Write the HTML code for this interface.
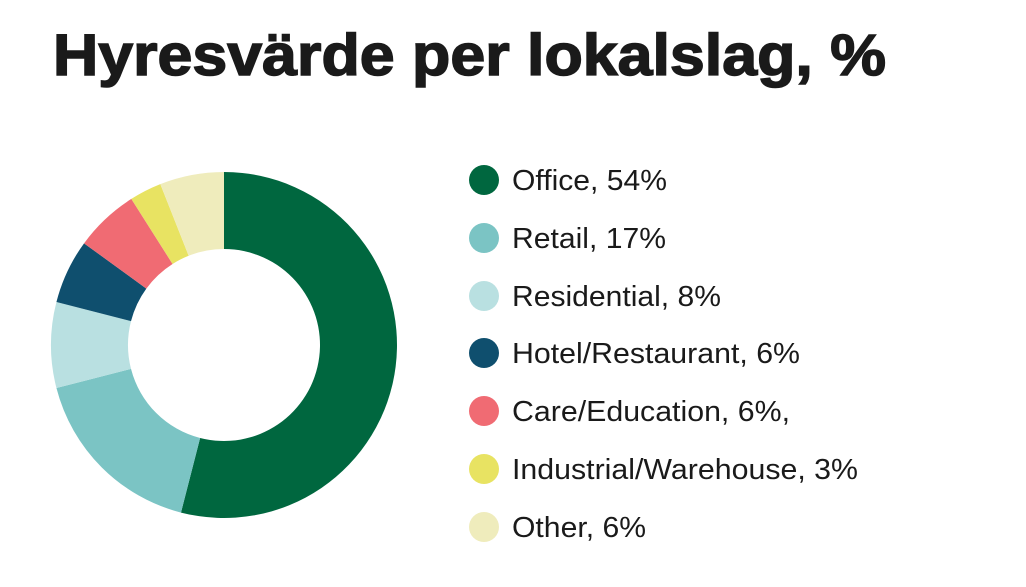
<!DOCTYPE html>
<html><head><meta charset="utf-8"><style>
html,body{margin:0;padding:0;background:#fff;}
svg{display:block;}
</style></head><body>
<svg id="s" width="1026" height="587" xmlns="http://www.w3.org/2000/svg">
<rect width="1026" height="587" fill="#fff"/>
<text x="53" y="75" font-family="Liberation Sans, sans-serif" font-weight="bold" font-size="58" fill="#1a1a1a" stroke="#1a1a1a" stroke-width="1.5" textLength="833" lengthAdjust="spacingAndGlyphs">Hyresvärde per lokalslag, %</text>
<g id="pie"></g>
<g font-family="Liberation Sans, sans-serif" font-size="29" fill="#1a1a1a">
<circle cx="484" cy="180" r="15" fill="#00673f"/><text x="512" y="190" textLength="155" lengthAdjust="spacingAndGlyphs">Office, 54%</text>
<circle cx="484" cy="238" r="15" fill="#7bc4c4"/><text x="512" y="248" textLength="154" lengthAdjust="spacingAndGlyphs">Retail, 17%</text>
<circle cx="484" cy="296" r="15" fill="#b9e0e1"/><text x="512" y="306" textLength="209" lengthAdjust="spacingAndGlyphs">Residential, 8%</text>
<circle cx="484" cy="353" r="15" fill="#0f4f6e"/><text x="512" y="363" textLength="288" lengthAdjust="spacingAndGlyphs">Hotel/Restaurant, 6%</text>
<circle cx="484" cy="411" r="15" fill="#f06b73"/><text x="512" y="421" textLength="278" lengthAdjust="spacingAndGlyphs">Care/Education, 6%,</text>
<circle cx="484" cy="469" r="15" fill="#e8e362"/><text x="512" y="479" textLength="346" lengthAdjust="spacingAndGlyphs">Industrial/Warehouse, 3%</text>
<circle cx="484" cy="527" r="15" fill="#efecbc"/><text x="512" y="537" textLength="134" lengthAdjust="spacingAndGlyphs">Other, 6%</text>
</g>
</svg>
<script>
var d=[[54,"#00673f"],[17,"#7bc4c4"],[8,"#b9e0e1"],[6,"#0f4f6e"],[6,"#f06b73"],[3,"#e8e362"],[6,"#efecbc"]];
var cx=224,cy=345,R=173,r=96,a=0,g=document.getElementById("pie"),h="";
function p(rad,ang){return [cx+rad*Math.sin(ang),cy-rad*Math.cos(ang)];}
d.forEach(function(e){var b=a+e[0]/100*2*Math.PI,l=(b-a)>Math.PI?1:0;
var p1=p(R,a),p2=p(R,b),p3=p(r,b),p4=p(r,a);
h+='<path fill="'+e[1]+'" d="M'+p1+' A'+R+' '+R+' 0 '+l+' 1 '+p2+' L'+p3+' A'+r+' '+r+' 0 '+l+' 0 '+p4+'Z"/>';a=b;});
g.innerHTML=h;
</script>
</body></html>
